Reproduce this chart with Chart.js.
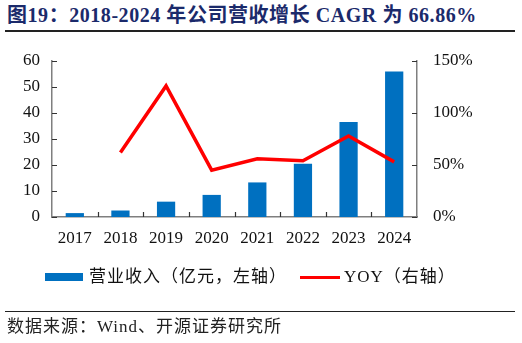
<!DOCTYPE html>
<html>
<head>
<meta charset="utf-8">
<script src="https://cdn.jsdelivr.net/npm/chart.js@4/dist/chart.umd.min.js"></script>
<style>
  html, body { margin: 0; padding: 0; background: #fff; }
  body { width: 522px; height: 343px; position: relative; overflow: hidden;
         font-family: "Liberation Serif", "Noto Sans CJK SC", serif; color: #111; }
  #title { position: absolute; left: 7px; top: 3px; font-size: 20px; line-height: 24px; font-weight: bold;
           color: #1b2a6b; white-space: nowrap; letter-spacing: 0.55px; }
  .rule { position: absolute; left: 5px; width: 510px; height: 1.5px; background: #222; }
  #wrap { position: absolute; left: 0; top: 0; width: 522px; height: 343px; }
  .legend { position: absolute; top: 267px; font-size: 17px; line-height: 20px; white-space: nowrap; letter-spacing: 1px; }
  .swatch { position: absolute; }
  #source { position: absolute; left: 7px; top: 317px; font-size: 17px; line-height: 20px; white-space: nowrap; color: #222; letter-spacing: 1px; }
</style>
</head>
<body>
<div id="title">图19：2018-2024 年公司营收增长 CAGR 为 66.86%</div>
<div class="rule" style="top:30px"></div>
<div id="wrap"><canvas id="c" width="522" height="343"></canvas></div>
<div class="swatch" style="left:45px; top:273px; width:38px; height:8px; background:#0070C0"></div>
<div class="legend" style="left:89px">营业收入（亿元，左轴）</div>
<div class="swatch" style="left:300px; top:276px; width:40px; height:3px; background:#FF0000"></div>
<div class="legend" style="left:344px">YOY（右轴）</div>
<div class="rule" style="top:311px; height:1.2px"></div>
<div id="source">数据来源：Wind、开源证券研究所</div>

<script>
// Years on the category axis
const years = ['2017', '2018', '2019', '2020', '2021', '2022', '2023', '2024'];
// Revenue, 100 million CNY (left axis)
const revenue = [1.5, 2.5, 5.9, 8.5, 13.3, 20.5, 36.5, 56.0];
// Year-over-year growth, % (right axis)
const yoy = [null, 62, 126, 45, 56, 54, 78, 53];
// Axis tick values
const leftTicks = [0, 10, 20, 30, 40, 50, 60];
const rightTicks = [0, 50, 100, 150];

const FONT = { family: '"Liberation Serif", "Noto Sans CJK SC", serif', size: 17 };
const AXIS_GRAY = '#7f7f7f';

// Short tick marks drawn on the inner side of each axis
const innerTicks = {
  id: 'innerTicks',
  afterDatasetsDraw(chart) {
    const { ctx, chartArea: a, scales } = chart;
    ctx.save();
    ctx.strokeStyle = '#333';
    ctx.lineWidth = 1.2;
    ctx.beginPath();
    scales.y.ticks.forEach(t => {
      const py = Math.round(scales.y.getPixelForValue(t.value)) + 0.5;
      ctx.moveTo(a.left, py); ctx.lineTo(a.left + 5, py);
    });
    scales.y1.ticks.forEach(t => {
      const py = Math.round(scales.y1.getPixelForValue(t.value)) + 0.5;
      ctx.moveTo(a.right, py); ctx.lineTo(a.right - 5, py);
    });
    const x = scales.x;
    for (let i = 1; i < years.length; i++) {
      const px = Math.round((x.getPixelForValue(i - 1) + x.getPixelForValue(i)) / 2) + 0.5;
      ctx.moveTo(px, a.bottom); ctx.lineTo(px, a.bottom - 5);
    }
    ctx.stroke();
    ctx.restore();
  }
};

new Chart(document.getElementById('c'), {
  type: 'bar',
  data: {
    labels: years,
    datasets: [
      {
        type: 'line',
        label: 'YOY（右轴）',
        data: yoy,
        yAxisID: 'y1',
        borderColor: '#FF0000',
        borderWidth: 3.5,
        borderJoinStyle: 'miter',
        pointRadius: 0,
        tension: 0,
        order: 0
      },
      {
        type: 'bar',
        label: '营业收入（亿元，左轴）',
        data: revenue,
        yAxisID: 'y',
        backgroundColor: '#0070C0',
        categoryPercentage: 1,
        barPercentage: 0.4,
        order: 1
      }
    ]
  },
  options: {
    responsive: false,
    animation: false,
    devicePixelRatio: 1,
    layout: { padding: { top: 61, bottom: 86, left: 0, right: 0 } },
    plugins: { legend: { display: false }, tooltip: { enabled: false } },
    scales: {
      x: {
        offset: true,
        grid: { display: false, drawTicks: false },
        border: { display: true, color: AXIS_GRAY, width: 1.5 },
        ticks: { color: '#111', font: FONT, padding: 11, maxRotation: 0 },
        afterFit(s) { s.height = 40; }
      },
      y: {
        position: 'left',
        min: 0, max: 60,
        afterBuildTicks(s) { s.ticks = leftTicks.map(v => ({ value: v })); },
        grid: { display: false, drawTicks: false },
        border: { display: true, color: AXIS_GRAY, width: 1.5 },
        ticks: { color: '#111', font: FONT, padding: 12 },
        afterFit(s) { s.width = 52; }
      },
      y1: {
        position: 'right',
        min: 0, max: 150,
        afterBuildTicks(s) { s.ticks = rightTicks.map(v => ({ value: v })); },
        grid: { display: false, drawTicks: false },
        border: { display: true, color: AXIS_GRAY, width: 1.5 },
        ticks: { color: '#111', font: FONT, padding: 16, callback: v => v + '%' },
        afterFit(s) { s.width = 105; }
      }
    }
  },
  plugins: [innerTicks]
});
</script>
</body>
</html>
